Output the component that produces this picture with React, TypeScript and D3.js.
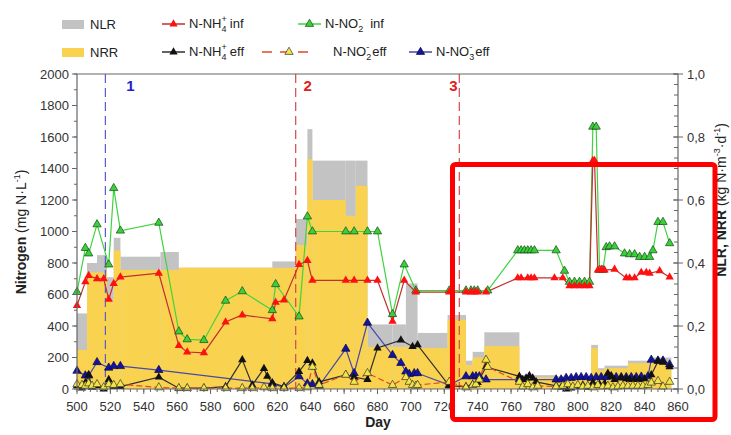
import React from 'react';
import * as d3 from 'd3';

// loading rates (kg N m-3 d-1), stepped per period
const binEdges = [500, 506, 512, 518, 522, 526, 550, 561, 617, 631, 638, 641, 661, 667, 674, 689, 697, 704, 722, 733, 737, 744, 765, 787, 808, 812, 816, 830, 843, 856];
const nlr = [0.24, 0.4, 0.425, 0.355, 0.48, 0.42, 0.435, 0.385, 0.405, 0.54, 0.825, 0.725, 0.725, 0.725, 0.205, 0.205, 0.335, 0.178, 0.235, 0.09, 0.118, 0.18, 0.044, 0.04, 0.14, 0.066, 0.074, 0.09, 0.1];
const nrr = [0.124, 0.37, 0.37, 0.28, 0.44, 0.378, 0.378, 0.385, 0.385, 0.457, 0.73, 0.6, 0.55, 0.645, 0.134, 0.134, 0.134, 0.13, 0.22, 0.076, 0.1, 0.136, 0.037, 0.037, 0.13, 0.06, 0.066, 0.082, 0.087];

// concentrations (mg N/L) as [day, value]
const nh4Inf: [number, number][] = [[500, 530], [505, 680], [507, 720], [512, 700], [516, 700], [519, 570], [522, 670], [526, 710], [549, 735], [561, 275], [566, 235], [576, 230], [589, 425], [599, 470], [617, 445], [619, 550], [624, 565], [633, 790], [638, 815], [641, 690], [661, 690], [666, 690], [674, 690], [680, 690], [689, 430], [696, 690], [703, 615], [723, 615], [733, 615], [736, 615], [738, 615], [740, 615], [745, 615], [764, 705], [766, 705], [770, 705], [772, 705], [774, 705], [786, 705], [791, 705], [795, 655], [798, 655], [801, 655], [804, 655], [807, 655], [809, 1450], [810, 1450], [812, 755], [814, 760], [816, 755], [822, 760], [829, 705], [831, 705], [834, 705], [838, 740], [841, 740], [843, 735], [849, 750], [855, 710]];
const no2Inf: [number, number][] = [[500, 615], [505, 895], [507, 860], [512, 1045], [519, 790], [522, 1275], [526, 1005], [549, 1055], [561, 365], [566, 315], [576, 310], [589, 560], [599, 620], [617, 500], [619, 665], [633, 460], [638, 1095], [641, 1000], [661, 1000], [666, 1000], [674, 1000], [680, 1000], [689, 475], [696, 790], [703, 625], [723, 625], [733, 625], [736, 625], [738, 625], [740, 625], [746, 625], [764, 880], [766, 880], [768, 880], [770, 880], [772, 880], [774, 880], [787, 880], [792, 750], [795, 680], [798, 680], [801, 680], [804, 680], [807, 680], [809, 1665], [811, 1665], [813, 755], [815, 755], [817, 900], [819, 905], [822, 905], [828, 860], [831, 855], [834, 855], [837, 838], [840, 838], [843, 838], [845, 880], [848, 1060], [851, 1060], [855, 925]];
const nh4Eff: [number, number][] = [[500, 20], [503, 5], [505, 40], [507, 90], [509, 10], [512, 20], [516, 0], [519, 60], [522, 15], [526, 15], [549, 75], [561, 5], [566, 5], [576, 5], [589, 15], [599, 185], [605, 25], [612, 130], [614, 80], [617, 40], [624, 15], [633, 110], [638, 180], [641, 165], [645, 45], [661, 90], [666, 75], [674, 60], [680, 260], [694, 310], [701, 270], [704, 280], [723, 20], [733, 15], [737, 30], [740, 40], [745, 140], [765, 80], [767, 60], [769, 70], [771, 85], [773, 70], [775, 45], [787, 20], [790, 10], [793, 0], [796, 5], [800, 15], [803, 25], [806, 10], [809, 40], [813, 30], [816, 35], [818, 100], [820, 80], [822, 60], [826, 70], [829, 65], [831, 60], [834, 60], [837, 60], [840, 65], [844, 90], [848, 175], [851, 170], [855, 140]];
const no2Eff: [number, number][] = [[500, 30], [503, 25], [505, 20], [507, 35], [509, 20], [512, 30], [516, 10], [519, 30], [522, 25], [526, 30], [549, 10], [561, 5], [566, 5], [576, 5], [589, 5], [599, 5], [605, 5], [612, 10], [617, 5], [624, 5], [633, 5], [638, 10], [641, 140], [645, 25], [661, 90], [666, 45], [674, 100], [689, 25], [697, 75], [699, 45], [701, 25], [703, 20], [704, 25], [723, 45], [733, 10], [737, 25], [739, 30], [741, 60], [745, 185], [746, 140], [765, 45], [767, 15], [770, 30], [773, 10], [776, 20], [787, 15], [791, 20], [794, 30], [797, 15], [800, 25], [803, 15], [806, 20], [809, 10], [812, 25], [815, 15], [818, 20], [821, 10], [824, 15], [827, 20], [830, 20], [833, 20], [836, 20], [839, 20], [842, 25], [844, 40], [848, 50], [851, 15], [855, 45]];
const no3Eff: [number, number][] = [[500, 115], [505, 85], [507, 85], [512, 170], [519, 135], [522, 145], [526, 145], [549, 120], [617, 32], [624, 10], [633, 80], [638, 35], [641, 30], [645, 20], [661, 255], [666, 100], [674, 420], [689, 215], [694, 165], [697, 110], [699, 95], [702, 100], [704, 100], [723, 25], [733, 80], [737, 80], [739, 80], [741, 80], [745, 60], [765, 60], [787, 60], [790, 60], [793, 70], [796, 70], [799, 75], [802, 75], [805, 75], [808, 70], [811, 75], [814, 75], [817, 75], [820, 80], [823, 75], [826, 75], [829, 75], [832, 75], [835, 75], [838, 78], [842, 80], [844, 185], [848, 180], [851, 180], [855, 155]];

const phaseDays = [517, 631, 729];
const phaseLabels = ['1', '2', '3'];
const xTicks = d3.range(500, 861, 20);
const yTicks = d3.range(0, 2001, 200);
const rTicks = [0, 0.2, 0.4, 0.6, 0.8, 1.0];

const font = 'Liberation Sans, Arial, sans-serif';

export default function App() {
  const x = d3.scaleLinear().domain([500, 860]).range([77, 678]);
  const yL = d3.scaleLinear().domain([0, 2000]).range([389, 74]);
  const yR = d3.scaleLinear().domain([0, 1]).range([389, 74]);
  const line = d3.line<[number, number]>().x(d => x(d[0])).y(d => yL(d[1]));
  const tri = d3.symbol(d3.symbolTriangle, 30)() as string;

  const series = [
    { data: no2Inf, stroke: '#3fd43f', dash: null, fill: '#3ccf3c', mstroke: '#124a12' },
    { data: nh4Inf, stroke: '#c03030', dash: null, fill: '#ff1010', mstroke: 'none' },
    { data: no3Eff, stroke: '#4848a8', dash: null, fill: '#1414a0', mstroke: '#0a0a40' },
    { data: nh4Eff, stroke: '#303030', dash: null, fill: '#111', mstroke: 'none' },
    { data: no2Eff, stroke: '#e04a2a', dash: '6,3', fill: '#f3e544', mstroke: '#333' },
  ];

  const bins = nlr.map((v, i) => ({ x0: binEdges[i], x1: binEdges[i + 1], nlr: v, nrr: nrr[i] }));
  const minorX = d3.range(500, 861, 4);
  const minorY = d3.range(0, 2001, 100);
  const minorR = d3.range(0, 31).map(i => i / 30);
  const phaseOffset = [25, 12, -6];

  const legendLine = (x0: number, y: number, color: string, fill: string, mstroke: string, dash?: string, w = 23) => (
    <g>
      <line x1={x0} x2={x0 + w} y1={y} y2={y} stroke={color} strokeWidth={1.5} strokeDasharray={dash} />
      <path d={tri} transform={`translate(${x0 + w / 2},${y})`} fill={fill} stroke={mstroke} strokeWidth={0.7} />
    </g>
  );
  const sub = (main: string, s: string, sup: string, rest: string, x0: number, y: number, gap = 3) => (
    <text x={x0} y={y} fontSize={13} fontFamily={font} fill="#222">
      {main}
      <tspan fontSize={9} dy={4}>{s}</tspan>
      <tspan fontSize={9} dx={-5} dy={-10}>{sup}</tspan>
      <tspan dx={gap} dy={6}>{rest}</tspan>
    </text>
  );

  return (
    <svg width={731} height={435} style={{ position: 'absolute', left: 0, top: 0, background: '#fff' }}>
      {/* legend */}
      <rect x={62} y={20} width={22} height={9} fill="#c3c3c3" />
      <text x={90} y={29} fontSize={13} fontFamily={font} fill="#222">NLR</text>
      <rect x={62} y={48} width={22} height={9} fill="#f9d34f" />
      <text x={90} y={57} fontSize={13} fontFamily={font} fill="#222">NRR</text>
      {legendLine(162, 24, '#c03030', '#ff1010', 'none')}
      {sub('N-NH', '4', '+', 'inf', 189, 28)}
      {legendLine(298, 24, '#3fd43f', '#3ccf3c', '#124a12')}
      {sub('N-NO', '2', '-', 'inf', 325, 28, 9)}
      {legendLine(162, 52, '#303030', '#111', 'none')}
      {sub('N-NH', '4', '+', 'eff', 189, 56)}
      {legendLine(262, 52, '#e04a2a', '#f3e544', '#333', '10,8', 54)}
      {sub('N-NO', '2', '-', 'eff', 333, 56)}
      {legendLine(409, 52, '#4848a8', '#1414a0', '#0a0a40')}
      {sub('N-NO', '3', '-', 'eff', 436, 56)}

      {/* bars */}
      {bins.map((b, i) => (
        <rect key={'l' + i} x={x(b.x0)} y={yR(b.nlr)} width={x(b.x1) - x(b.x0)} height={yR(0) - yR(b.nlr)} fill="#c3c3c3" />
      ))}
      {bins.map((b, i) => (
        <rect key={'r' + i} x={x(b.x0)} y={yR(b.nrr)} width={x(b.x1) - x(b.x0)} height={yR(0) - yR(b.nrr)} fill="#f9d34f" />
      ))}

      {/* phase lines */}
      {phaseDays.map((d, i) => (
        <g key={'p' + i}>
          <line x1={x(d)} x2={x(d)} y1={74} y2={389} stroke={i === 0 ? '#5a5ad0' : '#d44848'} strokeWidth={1.2} strokeDasharray="9,5" />
          <text x={x(d) + phaseOffset[i]} y={91} fontSize={15} fontWeight="bold" fontFamily={font} textAnchor="middle" fill={i === 0 ? '#2222c8' : '#e02020'}>{phaseLabels[i]}</text>
        </g>
      ))}

      {/* series */}
      {series.map((s, i) => (
        <path key={'s' + i} d={line(s.data) as string} fill="none" stroke={s.stroke} strokeWidth={1.2} strokeDasharray={s.dash ?? undefined} />
      ))}
      {series.map((s, i) => (
        <g key={'m' + i}>
          {s.data.map((d, j) => (
            <path key={j} d={tri} transform={`translate(${x(d[0])},${yL(d[1])})`} fill={s.fill} stroke={s.mstroke} strokeWidth={0.7} />
          ))}
        </g>
      ))}

      {/* frame & axes */}
      <line x1={77} x2={678} y1={74} y2={74} stroke="#666" strokeWidth={1.2} />
      <line x1={77} x2={77} y1={74} y2={389} stroke="#666" strokeWidth={1.2} />
      <line x1={77} x2={678} y1={389} y2={389} stroke="#666" strokeWidth={1.2} />
      <line x1={678} x2={678} y1={74} y2={389} stroke="#666" strokeWidth={1.2} />
      {minorY.map(v => <line key={'my' + v} x1={74} x2={77} y1={yL(v)} y2={yL(v)} stroke="#666" />)}
      {yTicks.map(v => (
        <g key={'y' + v}>
          <line x1={72} x2={77} y1={yL(v)} y2={yL(v)} stroke="#666" />
          <text x={69} y={yL(v) + 4.5} fontSize={13} fontFamily={font} textAnchor="end" fill="#333">{v}</text>
        </g>
      ))}
      {minorX.map(v => <line key={'mx' + v} x1={x(v)} x2={x(v)} y1={389} y2={392} stroke="#666" />)}
      {xTicks.map(v => (
        <g key={'x' + v}>
          <line x1={x(v)} x2={x(v)} y1={389} y2={394} stroke="#666" />
          <text x={x(v)} y={411} fontSize={13} fontFamily={font} textAnchor="middle" fill="#333">{v}</text>
        </g>
      ))}
      {minorR.map((v, i) => <line key={'mr' + i} x1={674} x2={678} y1={yR(v)} y2={yR(v)} stroke="#666" />)}
      {rTicks.map(v => (
        <g key={'r' + v}>
          <line x1={673} x2={683} y1={yR(v)} y2={yR(v)} stroke="#666" />
          <text x={687} y={yR(v) + 5} fontSize={13} fontFamily={font} fill="#333">{v.toFixed(1).replace('.', ',')}</text>
        </g>
      ))}

      {/* titles */}
      <text x={378} y={427} fontSize={14} fontWeight="bold" fontFamily={font} textAnchor="middle" fill="#222">Day</text>
      <text transform="translate(26,232) rotate(-90)" fontSize={14} fontFamily={font} textAnchor="middle" fill="#222">
        <tspan fontWeight="bold">Nitrogen</tspan> (mg N·L<tspan fontSize={9} dy={-6}>-1</tspan><tspan dy={6}>)</tspan>
      </text>
      <text transform="translate(726,200) rotate(-90)" fontSize={14} fontFamily={font} textAnchor="middle" fill="#222">
        <tspan fontWeight="bold">NLR, NRR</tspan> (kg N·m<tspan fontSize={9} dy={-6}>-3</tspan><tspan dy={6}>·d</tspan><tspan fontSize={9} dy={-6}>-1</tspan><tspan dy={6}>)</tspan>
      </text>

      {/* highlight box */}
      <rect x={452.5} y={164.5} width={262.5} height={255} rx={3} fill="none" stroke="#ff0000" strokeWidth={5} />
    </svg>
  );
}
